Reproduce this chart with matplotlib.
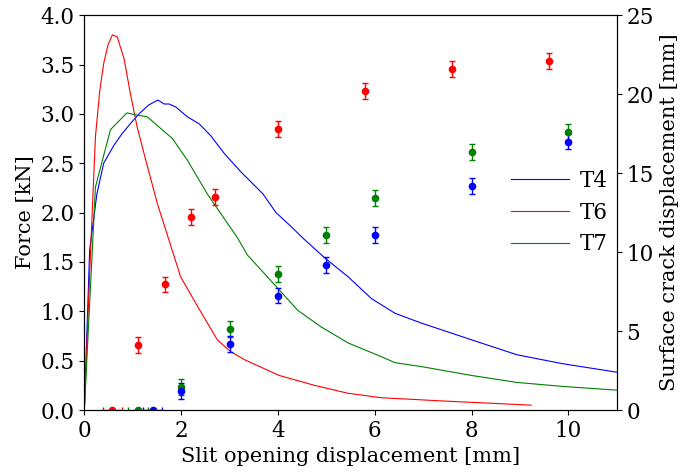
import matplotlib
matplotlib.use("Agg")
import matplotlib.pyplot as plt

plt.rcParams["font.family"] = "DejaVu Serif"
plt.rcParams["font.size"] = 15
plt.rcParams["xtick.labelsize"] = 15.5
plt.rcParams["ytick.labelsize"] = 15.5

# force curves (left axis)
t4_x = [0, 0.11, 0.26, 0.40, 0.61, 0.78, 0.95, 1.13, 1.33, 1.52, 1.65, 1.75, 1.89,
        2.13, 2.37, 2.61, 2.89, 3.24, 3.69, 3.96, 4.27, 4.52, 4.97, 5.45, 5.93,
        6.42, 6.97, 8.01, 8.94, 9.88, 11.05]
t4_f = [0, 1.62, 2.19, 2.50, 2.68, 2.80, 2.90, 3.00, 3.09, 3.14, 3.10, 3.10, 3.07,
        2.97, 2.90, 2.78, 2.60, 2.41, 2.19, 2.00, 1.86, 1.74, 1.54, 1.35, 1.13,
        0.98, 0.88, 0.71, 0.56, 0.47, 0.38]

t6_x = [0, 0.13, 0.23, 0.32, 0.40, 0.49, 0.58, 0.68, 0.82, 0.95, 1.09, 1.27, 1.51,
        1.75, 1.99, 2.34, 2.75, 3.03, 3.31, 4.03, 4.76, 5.45, 6.14, 7.5, 9.23]
t6_f = [0, 1.62, 2.77, 3.24, 3.51, 3.70, 3.80, 3.78, 3.56, 3.21, 2.87, 2.53, 2.09,
        1.72, 1.35, 1.05, 0.71, 0.59, 0.51, 0.35, 0.25, 0.17, 0.125, 0.09, 0.05]

t7_x = [0, 0.23, 0.54, 0.88, 1.06, 1.30, 1.82, 2.13, 2.54, 3.17, 3.37, 3.93, 4.41,
        4.90, 5.45, 6.14, 6.42, 6.97, 8.01, 8.94, 9.88, 11.05]
t7_f = [0, 2.26, 2.84, 3.01, 2.99, 2.97, 2.75, 2.53, 2.19, 1.74, 1.57, 1.27, 1.01,
        0.84, 0.68, 0.54, 0.48, 0.44, 0.35, 0.28, 0.24, 0.20]

# surface crack displacement measurements (right axis)
t4_sx = [1.41, 2.0, 3.0, 4.0, 5.0, 6.0, 8.0, 10.0]
t4_sy = [0, 1.2, 4.2, 7.25, 9.2, 11.1, 14.2, 17.0]
t6_sx = [0.58, 1.1, 1.67, 2.2, 2.7, 4.0, 5.8, 7.6, 9.6]
t6_sy = [0, 4.1, 7.95, 12.2, 13.5, 17.8, 20.2, 21.6, 22.1]
t7_sx = [1.11, 2.0, 3.0, 4.0, 5.0, 6.0, 8.0, 10.0]
t7_sy = [0, 1.45, 5.15, 8.6, 11.1, 13.45, 16.35, 17.6]
s_err = 0.5
x_err0 = 0.2

fig = plt.figure(figsize=(6.8, 4.73), dpi=100)
ax1 = fig.add_subplot(111)
ax2 = ax1.twinx()

ax1.plot(t4_x, t4_f, color="blue", lw=0.8, label="T4")
ax1.plot(t6_x, t6_f, color="red", lw=0.8, label="T6")
ax1.plot(t7_x, t7_f, color="green", lw=0.8, label="T7")

for xs, ys, c in [(t6_sx, t6_sy, "red"), (t7_sx, t7_sy, "green"), (t4_sx, t4_sy, "blue")]:
    # first reading (at zero) only carries an x error
    ax2.errorbar(xs[:1], ys[:1], xerr=x_err0, fmt="o", color=c, ms=4.5,
                 elinewidth=1, capsize=2.5, capthick=1)
    ax2.errorbar(xs[1:], ys[1:], yerr=s_err, fmt="o", color=c, ms=4.5,
                 elinewidth=1, capsize=2.5, capthick=1)

ax1.set_xlim(0, 11)
ax1.set_ylim(0, 4)
ax2.set_ylim(0, 25)
ax1.set_xticks([0, 2, 4, 6, 8, 10])
ax1.set_yticks([0, 0.5, 1, 1.5, 2, 2.5, 3, 3.5, 4])
ax1.set_yticklabels(["%.1f" % v for v in ax1.get_yticks()])
ax2.set_yticks([0, 5, 10, 15, 20, 25])

ax1.set_xlabel("Slit opening displacement [mm]")
ax1.set_ylabel("Force [kN]")
ax2.set_ylabel("Surface crack displacement [mm]")

ax1.legend(loc="center left", bbox_to_anchor=(0.765, 0.5), frameon=False,
           fontsize=15.5, handlelength=2.7, handletextpad=0.5, labelspacing=0.45)

fig.subplots_adjust(left=0.124, right=0.907, top=0.968, bottom=0.133)
fig.savefig("out.png")
